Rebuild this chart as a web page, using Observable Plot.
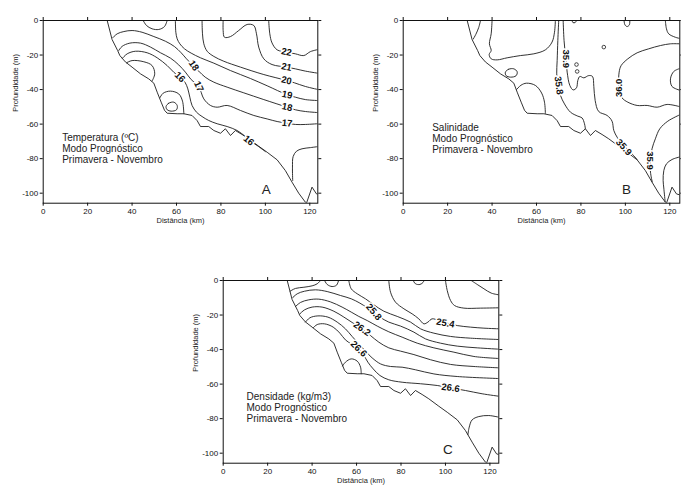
<!DOCTYPE html>
<html><head><meta charset="utf-8">
<script src="https://cdn.jsdelivr.net/npm/d3@7"></script>
<script src="https://cdn.jsdelivr.net/npm/@observablehq/plot@0.6"></script>
<style>
body{margin:0;background:#fff;width:681px;height:488px;position:relative;overflow:hidden;font-family:"Liberation Sans",Arial,sans-serif}
.p{position:absolute}
</style></head><body>
<div id="A" class="p" style="left:0;top:0"></div>
<div id="B" class="p" style="left:360px;top:0"></div>
<div id="C" class="p" style="left:180px;top:260px"></div>
<script>
// ---------- shared axes ----------
const xTicks = [0, 20, 40, 60, 80, 100, 120];
const yTicks = [0, -20, -40, -60, -80, -100];
const xTitle = "Distância (km)";
const yTitle = "Profundidade (m)";

// seabed (distance km, depth m) — same in all three panels
const seabed = [[28.8,0],[31,-11],[33.5,-17.4],[34.5,-20.3],[37,-24],[40,-27],[43.8,-30.9],[47.5,-33.8],[49.8,-36.3],[51.3,-41.5],[53.1,-47.3],[54.6,-52],[55.8,-53.7],[60.3,-54],[63.3,-54],[67,-55],[69.3,-58],[70.8,-61.4],[74.5,-61.4],[76.8,-63.7],[79.8,-65.3],[82,-62.7],[84.3,-66.6],[86.5,-63.7],[89.5,-66],[92.5,-68.5],[97,-72.8],[100.8,-76.3],[105.3,-80.7],[109,-86.9],[112,-93.6],[115,-100],[118,-105.2],[118.5,-105.8],[121,-96.5],[123,-100.4],[124.5,-101]];

// ---------- A: temperature contours ----------
const t22 = [[101.5,0],[102,-7.7],[103,-13],[105.3,-17],[109.5,-18.3],[113.5,-19.3],[117.3,-20.3],[120.3,-18],[124.5,-16.6]];
const t21 = [[81,0],[81,-5.8],[81.6,-9.7],[84.3,-9.3],[88,-5.8],[91.8,-2.3],[94.8,-2.9],[96,-7.7],[97,-15.4],[99.3,-22.2],[103,-25.5],[109.5,-27],[113.5,-28],[118,-29.3],[124.5,-30.7]];
const t20 = [[71.5,0],[71.7,-7.7],[72.3,-13.5],[73.8,-17.8],[76.8,-20.8],[81.3,-23.6],[88.8,-27],[99.3,-31.3],[109.5,-34.7],[113.1,-36.1],[118,-38.2],[124.5,-40.2]];
const t19 = [[59.5,0],[59.7,-6.8],[60.3,-10.6],[61.5,-13.5],[63.6,-16.4],[66.6,-18.9],[70.8,-21.6],[76.8,-24.7],[84.3,-29],[93.3,-33.6],[100.8,-37.8],[109.8,-43],[113.5,-44.4],[118,-45.8],[124.5,-46.4]];
const t18 = [[31.3,-10],[33.3,-7.7],[36.3,-6.4],[40,-5.8],[44.5,-6.8],[49.8,-9.3],[55,-12],[59.1,-15.1],[62.1,-18.7],[64.5,-22.2],[67,-25.5],[70,-29.3],[72.9,-32.8],[76.8,-35.7],[82.8,-38.6],[90.3,-41.9],[99.3,-45.8],[109.8,-50.2],[113.5,-51.7],[118,-52.7],[124.5,-53.4]];
const t17 = [[34,-17.4],[35.5,-15],[39,-13.1],[43.8,-13.1],[48.3,-15.4],[52.8,-18.7],[57.3,-21.8],[61,-25.7],[64,-29.9],[66.6,-34.2],[70,-38.2],[72.3,-45.4],[75.3,-49.2],[78.3,-50.2],[82.8,-49.2],[88.8,-52.1],[94.8,-55],[100.8,-57],[105.3,-58.5],[109.8,-59.5],[113.5,-60.2],[118,-60.2],[124.5,-59.7]];
const t16 = [[35.7,-21.8],[37.8,-19.3],[41.5,-17.8],[46.8,-18.7],[51.3,-21.6],[55.8,-26.1],[58.8,-30],[61.5,-32.8],[63.8,-35.7],[65.1,-39.6],[66,-44.4],[67,-49.2],[69,-53.1],[71.5,-55.6],[74.5,-57.9],[78.3,-59.8],[82.8,-61.4],[87.3,-63.7],[91,-67.2],[93,-69.5],[96.3,-72.4],[100,-75.9]];
const t15 = [[112.3,-92.7],[112.2,-84.9],[112.5,-78.8],[114,-75.7],[116.5,-74.3],[120.3,-73.6],[124.5,-72.9]];
const tTop = [[45,0],[46.5,-2.9],[49,-4.8],[52,-5.2],[54.6,-3.5],[55.8,0]];
const tLoop1 = [[37.5,-24.5],[40,-23.2],[45.3,-23.9],[49,-26.1],[50.2,-30.9],[49,-35.1]];
const tLoop2 = [[52.5,-44.8],[54,-42.1],[57.3,-40.9],[61,-42.5],[62.7,-46.7],[63.3,-54]];
const tOval = [[55.3,-49.8],[56.5,-47.9],[58.8,-47.3],[60.3,-49.2],[60,-51.7],[57.6,-52.5],[55.8,-51.7]];
const tLabels = [["22",109.5,-18.3],["21",109.5,-27],["20",109.5,-34.7],["19",109.8,-43],["18",109.8,-50.2],["17",109.8,-59.5],["18",67.8,-26.1],["16",61.5,-32.8],["17",70,-38.2],["16",92.5,-69.5]];
const tAngles = [12,12,12,12,12,6,55,45,65,40];
const tNote = "Temperatura (ºC)\nModo Prognóstico\nPrimavera - Novembro";

// ---------- B: salinity contours ----------
const sA = [[34.8,0],[34,-4],[32.7,-8],[31.5,-10.8]];
const sU = [[40,0],[39.6,-7.7],[38.8,-13.5],[39.6,-17.4],[38.7,-19.7],[39.6,-22.2],[42.3,-22.8],[46.8,-21.6],[52.8,-20.3],[58.8,-19.3],[64,-17],[67,-12.5],[68.1,-6.8],[68.5,0]];
const s358 = [[70,0],[69.6,-11.6],[69.3,-23.2],[69.1,-30.9],[69.6,-36.7],[70.8,-43.4],[72.6,-48.3],[75.3,-53.1],[78.6,-55.4],[80.5,-56.4],[81.6,-59.8],[82,-62.7]];
const s359a = [[72,0],[72.4,-11.6],[73.2,-22.2],[73.8,-29.9],[75,-37.6],[76.5,-40.2],[78,-39],[78.6,-34.7],[79.5,-32.4],[81.3,-33.2],[83.5,-31.9],[85.2,-32.4],[85.8,-38.2],[86.4,-46.3],[88,-52.7],[91.8,-55],[94,-58.3],[94.8,-63.7],[96.3,-67.6],[98.5,-71.4],[102.3,-76.3],[105.3,-80.5]];
const s360 = [[124.5,-13.5],[120.3,-13.5],[115.8,-14.5],[110.5,-16.4],[105.3,-18.7],[101.1,-22.2],[98.1,-26.1],[97.2,-29.9],[97,-36.7],[97.5,-40.9],[98.5,-44.8],[101.1,-47.3],[105.3,-49.2],[109.8,-49.2],[114.3,-50.2],[118.8,-48.6],[124.5,-49.9]];
const s360b = [[124.5,-27.8],[121.8,-29.5],[120.3,-33.8],[121,-38.2],[124.5,-40.4]];
const sTR = [[118,0],[118.5,-4.8],[119.5,-7.7],[122.5,-9.7],[124.5,-10.4]];
const s359b = [[124.5,-54.6],[119.1,-58.3],[115.5,-62.7],[113.5,-68.5],[112,-74.3],[111.3,-81.1],[111.3,-87.8],[112.1,-93.5]];
const sBR = [[124.5,-79],[121,-80.5],[118.5,-83],[117.3,-86.9],[117,-92.7],[117.3,-97],[117.9,-104.9]];
const sTop1 = [[76,0],[76.4,-1.2],[77.4,-1.2],[78,0]];
const sTop2 = [[99.4,0],[99.8,-2.5],[100.8,-3.5],[101.8,-2.5],[102,0]];
const sLoop = [[51,-40],[53,-37.5],[55.5,-36.3],[59.5,-37.6],[62.3,-42],[63.6,-47.3],[64,-53.8]];
const sOval = [[46,-29.9],[47.5,-28.2],[49.8,-28],[51.3,-29.7],[50.8,-32],[48.3,-32.8],[46.3,-31.9]];
const sCircles = [[90.3,-15.4],[78,-25.5],[78.3,-29.5]];
const sLabels = [["35.9",73.3,-22.2],["35.8",70,-37.6],["36.0",97,-39],["35.9",99.3,-73.4],["35.9",111.3,-81.1]];
const sAngles = [90,82,-90,48,90];
const sNote = "Salinidade\nModo Prognóstico\nPrimavera - Novembro";

// ---------- C: density contours ----------
const d1 = [[30.1,-6.2],[32.5,-4.6],[36.3,-3.9],[40,-3.1],[42.3,-1.9],[43.8,0]];
const dBump = [[45.6,0],[46.8,-2.3],[49,-3.5],[51,-2.7],[51.9,0]];
const dBump2 = [[85.5,0],[86.5,-1.9],[88.5,-2.3],[90,-1],[90.3,0]];
const dTR = [[111.6,0],[114.3,-2.3],[117.3,-4.8],[120.6,-7.3],[124.5,-8.4]];
const d252 = [[100,0],[100.8,-5.8],[102.3,-11.6],[104.1,-14.5],[108.3,-16],[115.8,-16],[124.5,-15.8]];
const d254 = [[74.5,0],[75.3,-6.8],[77.5,-12.5],[81.3,-16.4],[85,-19.3],[88,-22.2],[90.3,-25.1],[92.1,-24.1],[94,-22.2],[97,-23.2],[100.8,-24.7],[105.3,-26.1],[111.3,-27],[117.3,-27.6],[124.5,-28]];
const d256 = [[56.5,0],[57.6,-4.8],[60.3,-7.7],[64,-10.6],[67.8,-14.1],[72.3,-17.8],[78.3,-20.8],[84.3,-24.1],[88.8,-28],[94.8,-30.5],[102.3,-32.4],[111.3,-33.4],[124.5,-34.2]];
const d258 = [[31.2,-10],[33.3,-7.7],[36.6,-6.2],[41.5,-5.4],[46.8,-6.4],[52.8,-8.7],[57.6,-10.6],[61.5,-13.1],[64.8,-15.8],[67.5,-18.3],[70.5,-21.2],[74.5,-24.1],[79.8,-26.4],[85.8,-29.9],[91,-33.8],[97.8,-36.3],[105.3,-38],[114.3,-39],[124.5,-39.8]];
const d260 = [[32.5,-15.1],[34.8,-12.7],[38.5,-11.2],[43,-10.8],[48.3,-12.4],[53.5,-15.4],[57.6,-18.3],[61,-20.8],[64.8,-23.2],[69.3,-26.4],[74.5,-29.7],[80.5,-32.8],[87.3,-36.3],[94.8,-39],[103.8,-41.5],[112.8,-44],[124.5,-45.2]];
const d262 = [[34.5,-19.3],[36.6,-17],[40,-15.4],[44.5,-15.4],[49.8,-17.8],[54.3,-21.2],[58,-24.3],[62.5,-28],[66.3,-31.9],[70,-35.7],[74.5,-39],[79.8,-40.9],[85.8,-42.9],[93.3,-45.9],[102.3,-48.6],[112.8,-49.8],[124.5,-50.6]];
const d264 = [[37,-24.1],[39,-21.6],[42.6,-20.5],[47.1,-21.2],[51.3,-24.1],[55,-28],[58,-32.4],[61,-36.7],[64,-40.9],[67,-44.8],[70.8,-48.3],[75.3,-49.8],[80.5,-50.2],[86.5,-51.7],[94.8,-54.1],[105.3,-55.6],[124.5,-56.8]];
const d266 = [[40.5,-27.4],[42.3,-25.5],[45.6,-25.1],[49.5,-27],[52.5,-30.5],[55,-34.4],[58,-37.1],[61,-39.6],[63.3,-43.4],[65.1,-47.3],[67.5,-51.2],[70.5,-55],[74.5,-57.5],[80.5,-58.9],[88.8,-59.8],[96.3,-60.8],[102.3,-62.2],[109,-63.7],[116.5,-65.6],[124.5,-67.1]];
const dLoop = [[53.7,-49.5],[55,-47.3],[57.6,-45.4],[60.3,-46.7],[61.8,-50.2],[62.1,-54]];
const dBR = [[110.1,-89.2],[110.7,-84.9],[112,-80.7],[115,-78.8],[119.5,-78.2],[124.5,-79.3]];
const dLabels = [["25.8",67.8,-18.3],["26.2",62.5,-28],["26.6",61,-39.6],["25.4",100,-24.7],["26.6",102.3,-62.2]];
const dAngles = [50,35,45,10,8];
const dNote = "Densidade (kg/m3)\nModo Prognóstico\nPrimavera - Novembro";

// ---------- drawing ----------
const INK = "#1c1c1c";
function rows(lines) {
  return lines.flatMap((pts, i) => pts.map(([x, y]) => ({x, y, id: i})));
}
function panel(el, cfg) {
  const svg = Plot.plot({
    width: cfg.width, height: cfg.height,
    marginLeft: 42.7, marginRight: cfg.mr, marginTop: 20, marginBottom: cfg.mb,
    x: {domain: [0, cfg.xmax]},
    y: {domain: [-105.8, 0]},
    style: {fontFamily: "'Liberation Sans', Arial, sans-serif", fontSize: "8px", color: "#111", overflow: "visible", background: "transparent"},
    marks: [
      Plot.line(rows(cfg.lines), {x: "x", y: "y", z: "id", stroke: INK, strokeWidth: 0.9, curve: "catmull-rom", clip: true}),
      Plot.line(rows(cfg.closed), {x: "x", y: "y", z: "id", stroke: INK, strokeWidth: 0.9, curve: "catmull-rom-closed", clip: true}),
      Plot.line(seabed, {x: d => d[0], y: d => d[1], stroke: INK, strokeWidth: 0.9, clip: true}),
      Plot.dot(cfg.circles || [], {x: d => d[0], y: d => d[1], r: 1.8, stroke: INK, strokeWidth: 0.8, fill: "none"}),
      Plot.text(cfg.labels, {x: d => d[1], y: d => d[2], text: d => d[0], rotate: (d, i) => cfg.angles[i],
        fontSize: 9.5, fontWeight: "bold", fill: "#111", stroke: "white", strokeWidth: 3}),
      Plot.text([cfg.note], {x: () => cfg.noteX, y: () => cfg.noteY, text: d => d, textAnchor: "start",
        fontSize: 10, lineHeight: 1.12, fill: "#222"}),
      Plot.text([cfg.letter], {x: () => cfg.letterX, y: () => -98, text: d => d, fontSize: 13.5, fill: "#222"}),
      Plot.frame({stroke: "#111", strokeWidth: 1}),
      Plot.axisX(xTicks, {anchor: "bottom", tickSize: 3, tickPadding: 2, label: null, tickFormat: d => String(d)}),
      Plot.axisX(xTicks, {anchor: "top", tickSize: 4, label: null, tickFormat: () => ""}),
      Plot.axisY(yTicks, {anchor: "left", tickSize: 3, tickPadding: 2, label: null, tickFormat: d => String(d)}),
      Plot.axisY(yTicks, {anchor: "right", tickSize: 3, label: null, tickFormat: () => ""}),
      Plot.text([xTitle], {frameAnchor: "bottom", dy: 20, text: d => d, fontSize: 7.5, fill: "#222"}),
      Plot.text([yTitle], {frameAnchor: "left", dx: -27.7, rotate: -90, text: d => d, fontSize: 7.5, fill: "#222"})
    ]
  });
  document.getElementById(el).appendChild(svg);
}

panel("A", {width: 340, height: 240, mr: 22.7, mb: 37.3, xmax: 123.6,
  lines: [t22, t21, t20, t19, t18, t17, t16, t15, tTop, tLoop1, tLoop2],
  closed: [tOval], labels: tLabels, angles: tAngles,
  note: tNote, noteX: 8.55, noteY: -73.9, letter: "A", letterX: 100.4});

panel("B", {width: 321, height: 240, mr: 1.7, mb: 37.3, xmax: 124.5,
  lines: [sA, sU, s358, s359a, s360, s360b, sTR, s359b, sBR, sTop1, sTop2, sLoop],
  closed: [sOval], circles: sCircles, labels: sLabels, angles: sAngles,
  note: sNote, noteX: 13.05, noteY: -68.2, letter: "B", letterX: 100.5});

panel("C", {width: 340, height: 228, mr: 21.7, mb: 25.3, xmax: 124,
  lines: [d1, dBump, dBump2, dTR, d252, d254, d256, d258, d260, d262, d264, d266, dLoop, dBR],
  closed: [], labels: dLabels, angles: dAngles,
  note: dNote, noteX: 10.5, noteY: -73.4, letter: "C", letterX: 101.1});
</script>
</body></html>
